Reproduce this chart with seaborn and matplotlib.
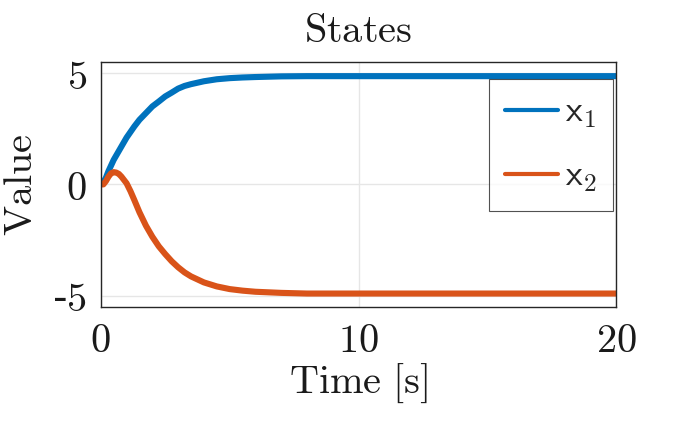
import pandas as pd
import matplotlib
matplotlib.use('Agg')
import matplotlib.pyplot as plt
import seaborn as sns

# values
time = [0, 0.1, 0.2, 0.3, 0.4, 0.5, 0.6, 0.7, 0.8, 0.9, 1, 1.15, 1.3, 1.5, 1.75, 2,
        2.25, 2.5, 2.75, 3, 3.25, 3.5, 4, 4.5, 5, 5.5, 6, 7, 8, 10, 15, 20]
x1 = [0, 0.1, 0.3, 0.6, 0.85, 1.1, 1.3, 1.5, 1.7, 1.9, 2.1, 2.35, 2.6, 2.9, 3.2, 3.5,
      3.72, 3.95, 4.12, 4.3, 4.42, 4.5, 4.63, 4.72, 4.77, 4.8, 4.82, 4.85, 4.86, 4.86, 4.86, 4.86]
x2 = [0, 0.0, 0.15, 0.35, 0.5, 0.55, 0.53, 0.47, 0.35, 0.2, 0.05, -0.3, -0.7, -1.25, -1.85, -2.35,
      -2.78, -3.13, -3.45, -3.72, -3.95, -4.13, -4.4, -4.58, -4.7, -4.77, -4.82, -4.87, -4.9, -4.9, -4.9, -4.9]
labels = [r'$\mathsf{x}_{\mathsf{1}}$', r'$\mathsf{x}_{\mathsf{2}}$']
colors = ['#0072BD', '#D95319']

df = pd.DataFrame({
    'Time': time * 2,
    'Value': x1 + x2,
    'state': [labels[0]] * len(time) + [labels[1]] * len(time),
})

sns.set_style('whitegrid')
plt.rcParams['mathtext.fontset'] = 'cm'
plt.rcParams['axes.edgecolor'] = '#262626'
plt.rcParams['axes.linewidth'] = 1.0

fig = plt.figure(figsize=(6.81, 4.21), dpi=100)
ax = fig.add_axes([0.148, 0.271, 0.757, 0.582])

sns.lineplot(data=df, x='Time', y='Value', hue='state', palette=colors,
             linewidth=4.4, ax=ax, sort=False)

ax.set_xlim(0, 20)
ax.set_ylim(-5.5, 5.5)
ax.set_xticks([0, 10, 20])
ax.set_xticklabels([r'$0$', r'$10$', r'$20$'])
ax.set_yticks([-5, 0, 5])
ax.set_yticklabels([r'-$5$', r'$0$', r'$5$'])
ax.grid(True, color='#e6e6e6', linewidth=1.0)
ax.tick_params(direction='in', length=5, width=1, colors='#262626',
               labelsize=29, pad=10, labelcolor='#1a1a1a')
for s in ax.spines.values():
    s.set_visible(True)
    s.set_color('#262626')

ax.set_title(r'$\mathrm{States}$', fontsize=29, pad=14, color='#1a1a1a')
ax.set_xlabel(r'$\mathrm{Time\ [s]}$', fontsize=29, labelpad=1, color='#1a1a1a')
ax.set_ylabel(r'$\mathrm{Value}$', fontsize=29, labelpad=8, color='#1a1a1a')

leg = ax.legend(loc='upper right', bbox_to_anchor=(0.993, 0.93), frameon=True,
                fancybox=False, edgecolor='#262626', fontsize=26,
                handlelength=1.45, handletextpad=0.2, borderpad=0.45,
                labelspacing=0.8, borderaxespad=0)
leg.get_frame().set_linewidth(0.8)
for h in leg.legend_handles:
    h.set_linewidth(3)

fig.savefig('out.png', dpi=100)
